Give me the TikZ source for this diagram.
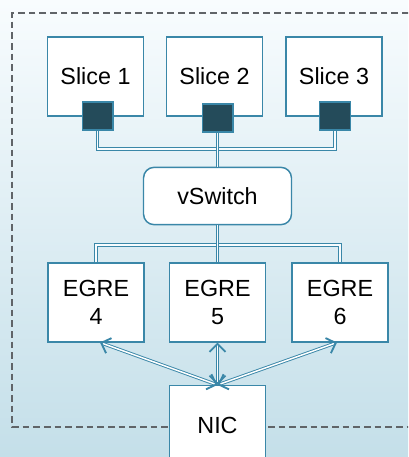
\documentclass[tikz,border=0pt]{standalone}
\usepackage{fontspec}
\setmainfont{Liberation Sans}
\usetikzlibrary{arrows.meta}
\definecolor{edgec}{HTML}{3A87A8}
\definecolor{portc}{HTML}{244B5A}
\definecolor{bgtop}{HTML}{F8FCFE}
\definecolor{bgmid}{HTML}{EEF6FA}
\definecolor{bgbot}{HTML}{C4DFE9}
\definecolor{dashc}{HTML}{606468}
\begin{document}
\begin{tikzpicture}[x=0.75pt,y=-0.75pt,
  box/.style={draw=edgec, line width=1.1pt, fill=white, minimum width=72pt, minimum height=59pt,
    font=\fontsize{17.5}{20}\selectfont, inner sep=0pt, align=center},
  switchbox/.style={box, rounded corners=8pt, minimum width=111pt, minimum height=43pt},
  portbox/.style={draw=edgec, line width=1pt, fill=portc, minimum width=23pt, minimum height=21pt, inner sep=0pt},
  link/.style={draw=edgec, line width=0.8pt, double=bgtop, double distance=1.3pt},
  tipend/.style={},
  arr/.style={draw=edgec, line width=0.7pt, double=white, double distance=1.1pt,
    {Straight Barb[length=6pt,width=12pt,line width=1.4pt]}-{Straight Barb[length=6pt,width=12pt,line width=1.4pt]}},
  frame/.style={draw=dashc, line width=0.9pt, dash pattern=on 5pt off 3pt}
]
\useasboundingbox (0,0) rectangle (408,457);
\clip (0,0) rectangle (408,457);
\shade[top color=bgtop, middle color=bgmid, bottom color=bgbot] (0,0) rectangle (408,457);
\draw[frame] (430,13) -- (12,13) -- (12,427) -- (430,427);

\node[box] (s1) at (95.5,76.5) {Slice 1};
\node[box] (s2) at (214.5,76.5) {Slice 2};
\node[box] (s3) at (334,76.5) {Slice 3};

\node[switchbox] (vs) at (217.5,196) {vSwitch};

\node[box] (e4) at (96,302.5) {EGRE\\[1pt]4};
\node[box] (e5) at (217.5,302.5) {EGRE\\[1pt]5};
\node[box] (e6) at (340,302.5) {EGRE\\[1pt]6};

\node[box] (nic) at (217.5,425) {NIC};

\node[portbox] (p1) at (97.5,116) {};
\node[portbox] (p2) at (217.5,118) {};
\node[portbox] (p3) at (335,116) {};

\coordinate (busA) at (0,149);
\coordinate (busB) at (0,245);
\coordinate (a4) at (100,342.5);
\coordinate (a6) at (337,342.5);

% links slices -> vSwitch, vSwitch -> EGRE
\draw[link] (p1.south) |- (p3.south |- busA) -- (p3.south);
\draw[link] (p2.south) -- (vs.north);
\draw[link] (e4.north) |- (e6.north |- busB) -- (e6.north);
\draw[link] (vs.south) -- (e5.north);

% redraw ports on top of links
\node[portbox] at (p1) {};
\node[portbox] at (p2) {};
\node[portbox] at (p3) {};

% arrows NIC <-> EGRE
\draw[arr] (nic.north) -- (a4);
\draw[arr] (nic.north) -- (e5.south);
\draw[arr] (nic.north) -- (a6);
\end{tikzpicture}
\end{document}
